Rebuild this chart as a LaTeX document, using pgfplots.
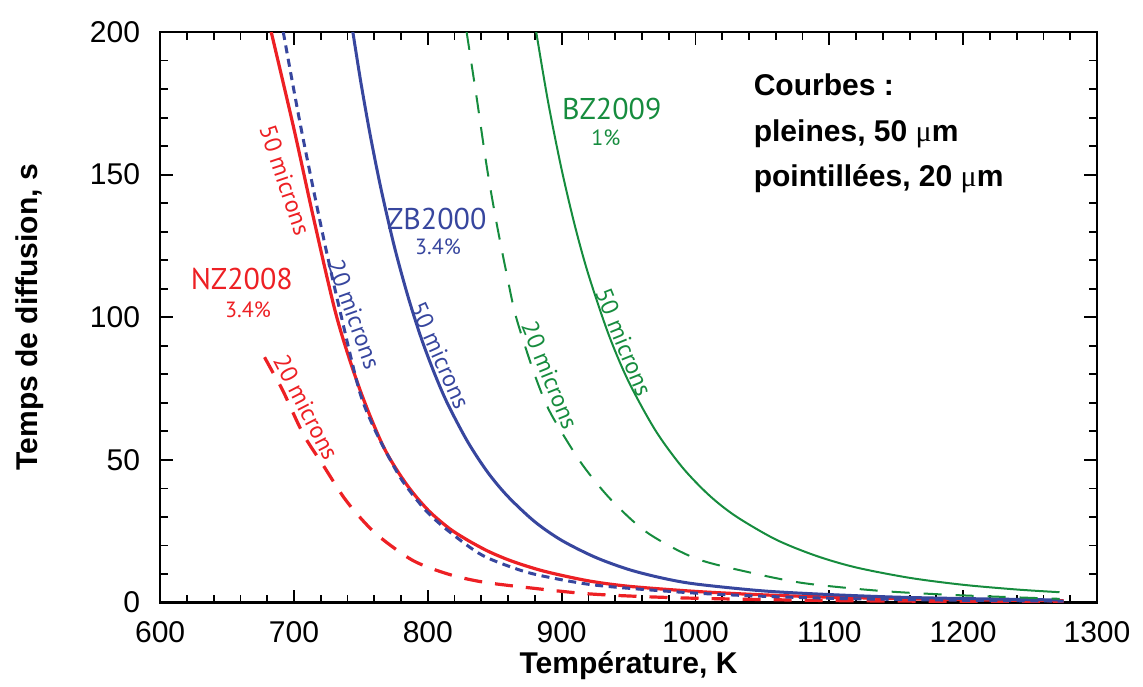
\documentclass[border=0pt]{standalone}
\usepackage{fontspec}
\setmainfont{Liberation Sans}
\newfontfamily\lab{PT Sans}
\newfontfamily\grk{Liberation Serif}
\usepackage{pgfplots}
\pgfplotsset{compat=1.18}
\definecolor{nzred}{RGB}{237,32,36}
\definecolor{zbblue}{RGB}{55,70,158}
\definecolor{bzgreen}{RGB}{22,140,62}
\begin{document}
\begin{tikzpicture}
\begin{axis}[
name=ax,
scale only axis,
width=468pt, height=285pt,
xmin=600, xmax=1300,
ymin=0, ymax=200,
xtick={600,700,...,1300},
ytick={0,50,...,200},
minor x tick num=4,
minor y tick num=4,
tick align=inside,
tick pos=both,
major tick length=6.5pt,
minor tick length=4pt,
tick style={black, line width=0.9pt},
axis line style={line width=1.2pt},
tick label style={font=\fontsize{15}{18}\selectfont},
xticklabel style={yshift=-6pt},
yticklabel style={xshift=-6.5pt},
/pgf/number format/assume math mode=true,
/pgf/number format/1000 sep={},
xlabel={Température, K},
ylabel={Temps de diffusion, s},
label style={font=\fontsize{15}{18}\selectfont\bfseries},
xlabel style={at={(axis description cs:0.5,-0.1105)}, anchor=center},
ylabel style={at={(axis description cs:-0.139,0.5)}, anchor=center},
clip mode=individual,
]
% NZ2008, 50 microns
\addplot [nzred, line width=1.6pt, smooth] table {%
683 200
700 166
715 134
732 100
749 75
767 54.5
784 41.5
800 32.5
816 26
830 21.8
845 18
860 15
875 12.6
891 10.5
920 7.6
950 5.7
1000 3.9
1050 2.7
1100 1.9
1150 1.4
1200 1.0
1275 0.6
};
% NZ2008, 20 microns
\addplot [nzred, line width=1.6pt, smooth, dash pattern=on 9pt off 6.5pt] table {%
678 86
685 80
692 74
707 59
722 48
737 37
750 29.5
764 23
789 14.7
815 10
841 7.2
879 5
916 3.2
950 2.3
1000 1.5
1100 0.7
1200 0.4
1275 0.3
};
% ZB2000, 20 microns
\addplot [zbblue, line width=1.5pt, smooth, dash pattern=on 4pt off 2.8pt] table {%
692 200
705 167
722 128
735 101
749 74
760 61
772 50
782 42
799 32
817 24.5
841 16.5
870 11.2
891 8.8
920 6.4
950 5.0
1000 3.3
1050 2.2
1100 1.5
1150 1.1
1200 0.8
1275 0.5
};
% ZB2000, 50 microns
\addplot [zbblue, line width=1.5pt, smooth] table {%
744 200
750 182.3
757 163.8
765 145.1
775 124.8
785 107.6
795 92.8
805 80.3
815 69.5
830 56.2
845 45.5
860 37.1
880 28.3
900 21.8
925 15.9
950 11.6
975 8.6
1000 6.5
1050 4.1
1100 2.8
1150 1.9
1200 1.4
1272 0.9
};
% BZ2009, 20 microns
\addplot [bzgreen, line width=1pt, smooth, dash pattern=on 9pt off 7pt] table {%
829 200
836.5 177
844 153
851 134
859 115
866 100
879 81
889 69
899 60.5
916 48
937 36
964 24.5
1000 15.5
1041 10.5
1078 7
1116 5
1150 3.7
1200 2.5
1272 1.3
};
% BZ2009, 50 microns
\addplot [bzgreen, line width=1pt, smooth] table {%
881 200
890 175.2
900 151.8
910 131.9
920 115.0
935 94.1
950 77.5
970 60.4
990 47.5
1010 37.7
1030 30.3
1060 22.1
1090 16.4
1120 12.3
1160 8.66
1200 6.22
1240 4.57
1272 3.62
};
% curve names
\node[nzred, font=\lab\fontsize{15}{18}\selectfont] at (axis cs:661,113.3) {NZ2008};
\node[nzred, font=\lab\fontsize{11}{13}\selectfont] at (axis cs:665.7,102.6) {3.4\%};
\node[zbblue, font=\lab\fontsize{15}{18}\selectfont] at (axis cs:806.7,134.4) {ZB2000};
\node[zbblue, font=\lab\fontsize{11}{13}\selectfont] at (axis cs:807.7,124.7) {3.4\%};
\node[bzgreen, font=\lab\fontsize{15}{18}\selectfont] at (axis cs:937.4,172.9) {BZ2009};
\node[bzgreen, font=\lab\fontsize{11}{13}\selectfont] at (axis cs:933,163) {1\%};
% labels along the curves
\node[nzred, font=\lab\fontsize{12}{14}\selectfont, rotate=-71.4] at (axis cs:693.4,148.1) {50 microns};
\node[zbblue, font=\lab\fontsize{12}{14}\selectfont, rotate=-70.3] at (axis cs:745,101) {20 microns};
\node[zbblue, font=\lab\fontsize{12}{14}\selectfont, rotate=-66] at (axis cs:809.2,86.7) {50 microns};
\node[nzred, font=\lab\fontsize{12}{14}\selectfont, rotate=-62.7] at (axis cs:709.1,68.4) {20 microns};
\node[bzgreen, font=\lab\fontsize{12}{14}\selectfont, rotate=-68] at (axis cs:891.3,79.6) {20 microns};
\node[bzgreen, font=\lab\fontsize{12}{14}\selectfont, rotate=-68] at (axis cs:946.5,91.2) {50 microns};
% key
\node[anchor=base west, font=\fontsize{15}{18}\selectfont\bfseries] at (axis cs:1038.3,177.9) {Courbes :};
\node[anchor=base west, font=\fontsize{15}{18}\selectfont\bfseries] at (axis cs:1038.3,161.5) {pleines, 50 {\grk\mdseries μ}m};
\node[anchor=base west, font=\fontsize{15}{18}\selectfont\bfseries] at (axis cs:1038.3,145.7) {pointillées, 20 {\grk\mdseries μ}m};
\end{axis}
% margins as in the reference
\path ([xshift=-80pt,yshift=-42pt]ax.south west) rectangle ([xshift=23pt,yshift=16pt]ax.north east);
\end{tikzpicture}
\end{document}
